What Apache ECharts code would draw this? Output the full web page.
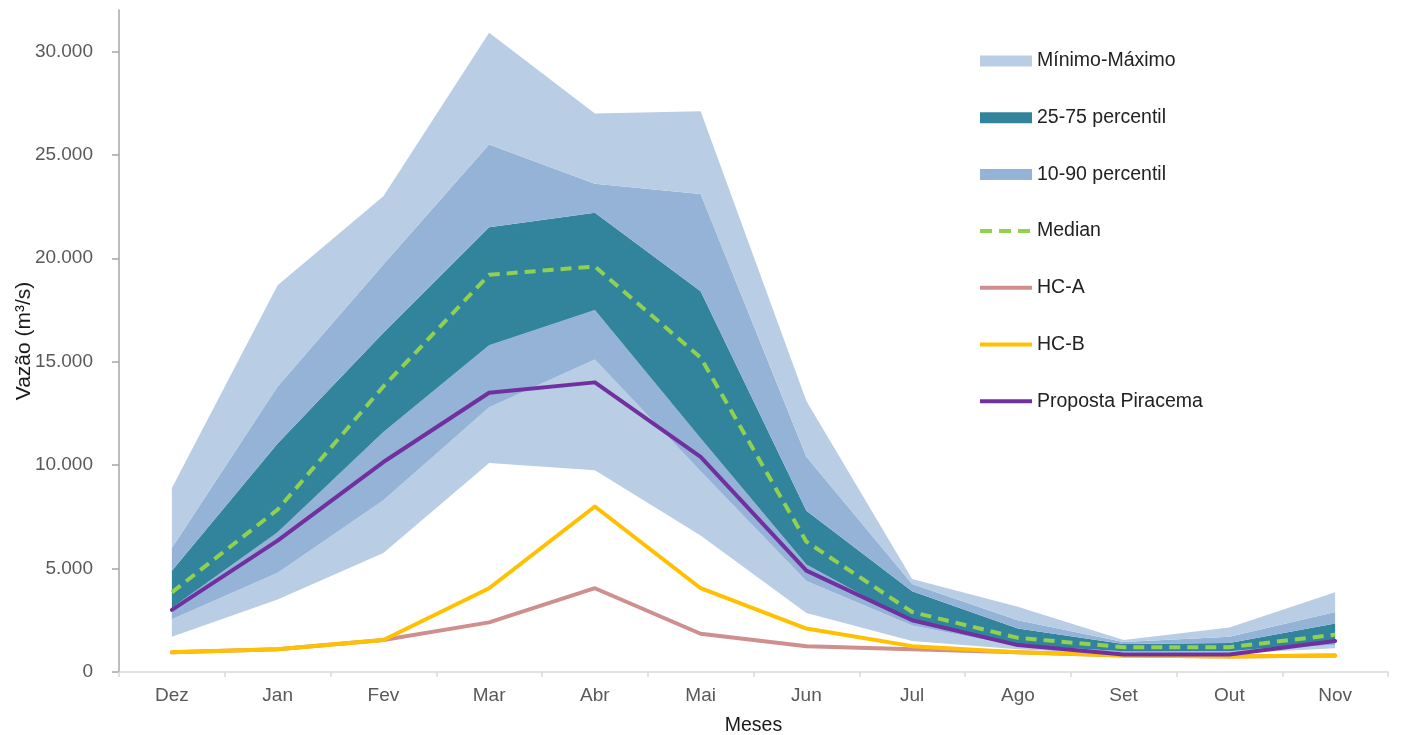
<!DOCTYPE html>
<html>
<head>
<meta charset="utf-8">
<style>
html,body{margin:0;padding:0;background:#fff;}
#chart{width:1402px;height:735px;}
</style>
<script src="https://cdn.jsdelivr.net/npm/echarts@6/dist/echarts.min.js"></script>
</head>
<body>
<div id="chart"></div>
<script>
var months = ['Dez','Jan','Fev','Mar','Abr','Mai','Jun','Jul','Ago','Set','Out','Nov'];
var yTicks = [0, 5000, 10000, 15000, 20000, 25000, 30000];

var minimo  = [1700, 3500, 5750, 10100, 9750, 6600, 2850, 1500, 1100, 850, 900, 1150];
var p10     = [2550, 4800, 8300, 12800, 15100, 9700, 4400, 2250, 1250, 950, 1000, 1300];
var p25     = [3100, 6750, 11600, 15800, 17500, 11300, 5200, 2400, 1300, 1000, 1000, 1450];
var mediana = [3850, 7850, 13800, 19200, 19600, 15200, 6300, 2900, 1650, 1200, 1200, 1800];
var p75     = [4900, 11050, 16400, 21500, 22200, 18400, 7800, 3900, 2100, 1350, 1400, 2350];
var p90     = [6000, 13800, 19700, 25500, 23600, 23100, 10400, 4250, 2500, 1450, 1700, 2900];
var maximo  = [8900, 18700, 23000, 30900, 27000, 27100, 13100, 4500, 3150, 1550, 2150, 3850];
var hcA       = [950, 1100, 1550, 2400, 4050, 1850, 1250, 1100, 950, 800, 750, 800];
var hcB       = [950, 1100, 1550, 4050, 8000, 4050, 2100, 1250, 950, 800, 750, 800];
var piracema  = [3000, 6350, 10150, 13500, 14000, 10400, 4900, 2500, 1300, 850, 850, 1500];

var cLight = '#b9cde5', cMed = '#95b3d7', cTeal = '#31849b';
var cGreen = '#92d050', cPink = '#cf8f8f', cYellow = '#ffc000', cPurple = '#7030a0';

function diff(a, b) { return a.map(function (v, i) { return v - b[i]; }); }
function fmt(v) { return String(v).replace(/\B(?=(\d{3})+(?!\d))/g, '.'); }

function band(name, data, color) {
  return {
    name: name, type: 'line', stack: 'faixa', data: data, symbol: 'none', silent: true,
    lineStyle: { width: 0, opacity: 0 }, itemStyle: { color: color },
    areaStyle: { color: color, opacity: 1 }, z: 1
  };
}
function line(name, data, color, extra) {
  var s = {
    name: name, type: 'line', data: data, symbol: 'none', silent: true,
    lineStyle: { width: 4, color: color, cap: 'round', join: 'round' },
    itemStyle: { color: color }, z: 3
  };
  if (extra) { for (var k in extra) s.lineStyle[k] = extra[k]; }
  return s;
}
function lineLegend(name, color, dash) {
  var ls = { width: 4, color: color, cap: 'butt' };
  if (dash) ls.type = dash;
  return { name: name, itemStyle: { opacity: 0 }, lineStyle: ls };
}

var font = 'Liberation Sans, Arial, sans-serif';
var chart = echarts.init(document.getElementById('chart'), null, { renderer: 'canvas' });
chart.setOption({
  animation: false,
  backgroundColor: '#ffffff',
  grid: { left: 119, right: 14, top: 10, bottom: 63, containLabel: false, outerBoundsMode: 'none' },
  legend: {
    orient: 'vertical', left: 973, top: 46, itemWidth: 52, itemHeight: 11, itemGap: 36.7,
    selectedMode: false,
    textStyle: { fontFamily: font, fontSize: 19.5, color: '#222', lineHeight: 20 },
    data: [
      { name: 'Mínimo-Máximo', icon: 'rect', itemStyle: { color: cLight, borderWidth: 0 } },
      { name: '25-75 percentil', icon: 'rect', itemStyle: { color: cTeal, borderWidth: 0 } },
      { name: '10-90 percentil', icon: 'rect', itemStyle: { color: cMed, borderWidth: 0 } },
      lineLegend('Median', cGreen, [12, 7]),
      lineLegend('HC-A', cPink),
      lineLegend('HC-B', cYellow),
      lineLegend('Proposta Piracema', cPurple)
    ]
  },
  xAxis: {
    type: 'category', data: months, boundaryGap: true,
    name: 'Meses', nameLocation: 'middle', nameGap: 44,
    nameTextStyle: { fontFamily: font, fontSize: 19.5, color: '#1a1a1a' },
    axisLine: { show: true, lineStyle: { color: '#d9d9d9', width: 1.5 } },
    axisTick: { show: true, length: 5, lineStyle: { color: '#d9d9d9', width: 1.5 } },
    axisLabel: { margin: 14, fontFamily: font, fontSize: 19, color: '#595959' },
    splitLine: { show: false }
  },
  yAxis: {
    type: 'value', min: 0, max: 32000, interval: 5000,
    name: 'Vazão (m³/s)', nameLocation: 'middle', nameGap: 84, nameRotate: 90, nameMoveOverlap: false,
    nameTextStyle: { fontFamily: font, fontSize: 21, color: '#1a1a1a' },
    axisLine: { show: true, lineStyle: { color: '#a6a6a6', width: 1.5 } },
    axisTick: { show: true, length: 7, inside: false, customValues: yTicks, lineStyle: { color: '#a6a6a6', width: 1.5 } },
    axisLabel: { margin: 26, customValues: yTicks, fontFamily: font, fontSize: 19, color: '#595959', formatter: fmt },
    splitLine: { show: false }
  },
  series: [
    { name: '_base', type: 'line', stack: 'faixa', data: minimo, symbol: 'none', silent: true, lineStyle: { width: 0, opacity: 0 }, z: 1 },
    band('Mínimo-Máximo', diff(p10, minimo), cLight),
    band('10-90 percentil', diff(p25, p10), cMed),
    band('25-75 percentil', diff(p75, p25), cTeal),
    band('10-90 percentil', diff(p90, p75), cMed),
    band('Mínimo-Máximo', diff(maximo, p90), cLight),
    line('Median', mediana, cGreen, { type: [11, 7], cap: 'butt' }),
    line('HC-A', hcA, cPink),
    line('HC-B', hcB, cYellow),
    line('Proposta Piracema', piracema, cPurple)
  ]
});
</script>
</body>
</html>
